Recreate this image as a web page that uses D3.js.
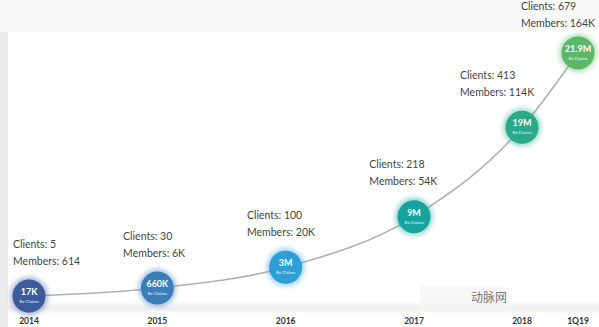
<!DOCTYPE html>
<html>
<head>
<meta charset="utf-8">
<script src="https://cdn.jsdelivr.net/npm/d3@7"></script>
<style>
  body { margin: 0; background: #fff; }
  svg { display: block; font-family: Lato, "Open Sans", sans-serif; }
</style>
</head>
<body>
<div id="chart"></div>
<script>
// data
const periods = ["2014", "2015", "2016", "2017", "2018", "1Q19"];
const clients = [5, 30, 100, 218, 413, 679];
const members = [614, 6000, 20000, 54000, 114000, 164000];
const memberLabels = ["614", "6K", "20K", "54K", "114K", "164K"];
const claims = ["17K", "660K", "3M", "9M", "19M", "21.9M"];
const colors = ["#3c5b9c", "#3a7db8", "#2d9fd6", "#17a39d", "#2aa98b", "#5bb866"];

const width = 599, height = 327;

const svg = d3.select("#chart").append("svg")
    .attr("width", width)
    .attr("height", height);

// background bands
svg.append("rect").attr("x", 0).attr("y", 0).attr("width", width).attr("height", 32).attr("fill", "#fafafa");
svg.append("rect").attr("x", 0).attr("y", 32).attr("width", 8).attr("height", height - 32).attr("fill", "#ebebeb");

const defs = svg.append("defs");
const grad = defs.append("linearGradient").attr("id", "band").attr("x1", 0).attr("y1", 0).attr("x2", 0).attr("y2", 1);
grad.append("stop").attr("offset", "0%").attr("stop-color", "#fff");
grad.append("stop").attr("offset", "60%").attr("stop-color", "#eeeeee");
grad.append("stop").attr("offset", "100%").attr("stop-color", "#fff");
svg.append("rect").attr("x", 8).attr("y", 300).attr("width", width - 8).attr("height", 14).attr("fill", "url(#band)");

defs.append("filter").attr("id", "glow")
    .attr("x", "-50%").attr("y", "-50%").attr("width", "200%").attr("height", "200%")
    .append("feGaussianBlur").attr("stdDeviation", 2.5);

// scales
const x = d3.scaleLinear()
    .domain([0, 3, 4, 5])
    .range([29, 414, 522, 578]);

const y = d3.scaleLinear()
    .domain([0, 170000])
    .range([297, 44]);

const pts = periods.map((p, i) => ({
    period: p, i: i,
    cx: x(i), cy: y(members[i]),
    clients: clients[i], member: memberLabels[i],
    claim: claims[i], color: colors[i]
}));

// watermark box
svg.append("rect").attr("x", 420).attr("y", 286).attr("width", 86).attr("height", 26).attr("fill", "#f5f5f5").attr("opacity", 0.7);
svg.append("text").attr("x", 471).attr("y", 302)
    .attr("font-family", "'Noto Sans CJK SC', sans-serif")
    .attr("font-size", 12).attr("fill", "#777")
    .text("动脉网");

// curve
const line = d3.line()
    .x(d => d.cx)
    .y(d => d.cy)
    .curve(d3.curveMonotoneX);

svg.append("path")
    .datum(pts)
    .attr("d", line)
    .attr("fill", "none")
    .attr("stroke", "#b0b0b0")
    .attr("stroke-width", 1.6);

// bubbles
const g = svg.selectAll("g.pt")
    .data(pts)
    .enter().append("g")
    .attr("class", "pt")
    .attr("transform", d => `translate(${d.cx},${d.cy})`);

g.append("circle")
    .attr("r", 19)
    .attr("fill", d => d.color)
    .attr("opacity", 0.45)
    .attr("filter", "url(#glow)");

g.append("circle")
    .attr("r", 16.5)
    .attr("fill", d => d.color);

g.append("text")
    .attr("y", -1)
    .attr("text-anchor", "middle")
    .attr("fill", "#fff")
    .attr("font-size", 9)
    .attr("font-weight", "bold")
    .text(d => d.claim);

g.append("text")
    .attr("y", 7)
    .attr("text-anchor", "middle")
    .attr("fill", "#e8f4ff")
    .attr("font-size", 4.5)
    .text("Rx Claims");

// annotations: sit above each bubble, pushed left where the curve climbs steeply
const notes = svg.selectAll("g.note")
    .data(pts)
    .enter().append("g")
    .attr("class", "note")
    .attr("font-size", 10.5)
    .attr("fill", "#444");

notes.each(function (d, i) {
    const n = d3.select(this);
    const t1 = n.append("text").attr("dy", "0.35em").text(`Clients: ${d.clients}`);
    const t2 = n.append("text").attr("dy", "0.35em").text(`Members: ${d.member}`);
    const w = Math.max(t1.node().getComputedTextLength(), t2.node().getComputedTextLength());
    let slope = 0;
    if (i > 0 && i < pts.length - 1) {
        slope = (pts[i - 1].cy - pts[i + 1].cy) / (pts[i + 1].cx - pts[i - 1].cx);
    }
    let left = d.cx - 3 - 22 * slope * slope - w / 2;
    left = Math.max(13, Math.min(left, width - 4 - w));
    const top = Math.max(6, d.cy - 52);
    t1.attr("x", left).attr("y", top);
    t2.attr("x", left).attr("y", top + 17);
});

// period labels
svg.selectAll("text.period")
    .data(pts)
    .enter().append("text")
    .attr("class", "period")
    .attr("x", d => d.cx)
    .attr("y", 321)
    .attr("dy", "0.35em")
    .attr("text-anchor", "middle")
    .attr("font-size", 8.5)
    .attr("font-weight", "bold")
    .attr("fill", "#333")
    .text(d => d.period);
</script>
</body>
</html>
